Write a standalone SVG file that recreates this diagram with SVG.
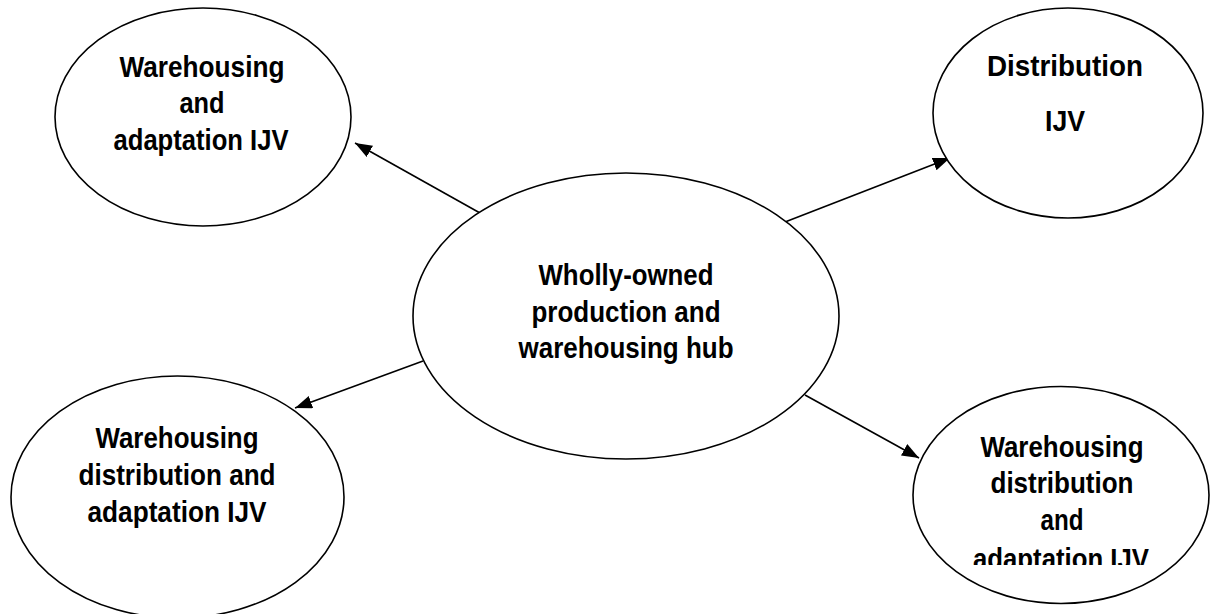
<svg xmlns="http://www.w3.org/2000/svg" width="1210" height="614" viewBox="0 0 1210 614">
<style>
.node ellipse{fill:#fff;stroke:#000;stroke-width:1.6}
.node text{font-family:"Liberation Sans",Arial,sans-serif;font-weight:bold;font-size:30px;fill:#000;text-anchor:middle}
.conn line{stroke:#000;stroke-width:1.6}
</style>
<defs>
<marker id="arr" markerUnits="userSpaceOnUse" markerWidth="18" markerHeight="14" refX="17" refY="6.5" orient="auto">
<path d="M0,0 L17,6.5 L0,13 z" fill="#000"/>
</marker>
<clipPath id="clipBR"><rect x="0" y="0" width="1210" height="565"/></clipPath>
</defs>
<rect width="1210" height="614" fill="#fff"/>
<g class="conn">
<line x1="480" y1="213" x2="355" y2="143" marker-end="url(#arr)"/>
<line x1="423" y1="361" x2="295" y2="408" marker-end="url(#arr)"/>
<line x1="785" y1="222" x2="950" y2="158" marker-end="url(#arr)"/>
<line x1="805" y1="395" x2="919" y2="458" marker-end="url(#arr)"/>
</g>
<g id="hub" class="node">
<ellipse cx="626" cy="316" rx="213" ry="143"/>
<text x="626" y="285" textLength="175" lengthAdjust="spacingAndGlyphs">Wholly-owned</text>
<text x="626" y="322" textLength="189" lengthAdjust="spacingAndGlyphs">production and</text>
<text x="626" y="358" textLength="215" lengthAdjust="spacingAndGlyphs">warehousing hub</text>
</g>
<g id="tl" class="node">
<ellipse cx="203" cy="117" rx="148" ry="109"/>
<text x="202" y="77" textLength="165" lengthAdjust="spacingAndGlyphs">Warehousing</text>
<text x="202" y="113" textLength="45" lengthAdjust="spacingAndGlyphs">and</text>
<text x="201" y="150" textLength="175" lengthAdjust="spacingAndGlyphs">adaptation IJV</text>
</g>
<g id="tr" class="node">
<ellipse cx="1068" cy="113" rx="135" ry="105"/>
<text x="1065" y="76" textLength="156" lengthAdjust="spacingAndGlyphs">Distribution</text>
<text x="1065" y="131" textLength="40" lengthAdjust="spacingAndGlyphs">IJV</text>
</g>
<g id="bl" class="node">
<ellipse cx="177.5" cy="497" rx="166.5" ry="121"/>
<text x="177" y="448" textLength="163" lengthAdjust="spacingAndGlyphs">Warehousing</text>
<text x="177" y="485" textLength="197" lengthAdjust="spacingAndGlyphs">distribution and</text>
<text x="177" y="522" textLength="179" lengthAdjust="spacingAndGlyphs">adaptation IJV</text>
</g>
<g id="br" class="node">
<ellipse cx="1061" cy="495" rx="148" ry="108.5"/>
<text x="1062" y="457" textLength="163" lengthAdjust="spacingAndGlyphs">Warehousing</text>
<text x="1062" y="493" textLength="143" lengthAdjust="spacingAndGlyphs">distribution</text>
<text x="1062" y="530" textLength="43" lengthAdjust="spacingAndGlyphs">and</text>
<text x="1061" y="569" textLength="176" lengthAdjust="spacingAndGlyphs" clip-path="url(#clipBR)">adaptation IJV</text>
</g>
</svg>
